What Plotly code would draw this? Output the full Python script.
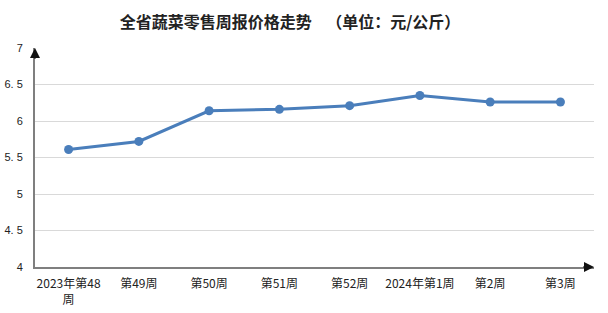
import plotly.graph_objects as go

categories = ["2023年第48<br>周", "第49周", "第50周", "第51周", "第52周", "2024年第1周", "第2周", "第3周"]
prices = [5.61, 5.72, 6.14, 6.16, 6.21, 6.35, 6.26, 6.26]
y_ticks = [4, 4.5, 5, 5.5, 6, 6.5, 7]
y_tick_labels = ["4", "4. 5", "5", "5. 5", "6", "6. 5", "7"]
title_text = "全省蔬菜零售周报价格走势    （单位：元/公斤）"

fig = go.Figure()
fig.add_trace(go.Scatter(
    x=categories, y=prices, mode="lines+markers",
    line=dict(color="#4a7ebb", width=3),
    marker=dict(color="#4a7ebb", size=9),
    hoverinfo="skip",
))

fig.update_layout(
    width=608, height=313,
    margin=dict(l=35, r=14, t=48, b=46),
    paper_bgcolor="white", plot_bgcolor="white",
    showlegend=False,
    font=dict(family="Noto Sans CJK SC", size=12, color="#222"),
    title=dict(text="<b>" + title_text + "</b>", x=0.477, xanchor="center",
               y=0.93, yanchor="middle",
               font=dict(family="Noto Sans CJK SC", size=16, color="#222")),
    xaxis=dict(type="category", showgrid=False, showline=True,
               linecolor="#7f7f7f", linewidth=2, ticks="",
               ticklabelstandoff=5, automargin=False,
               tickfont=dict(size=12, family="Noto Sans CJK SC", color="#222"),
               fixedrange=True),
    yaxis=dict(range=[4, 7], tickvals=y_ticks, ticktext=y_tick_labels,
               showgrid=True, gridcolor="#d9d9d9", gridwidth=1,
               showline=True, linecolor="#7f7f7f", linewidth=2, ticks="",
               zeroline=False, ticklabelstandoff=8, automargin=False,
               tickfont=dict(size=11, family="Liberation Sans", color="#222"),
               fixedrange=True),
)

# axis arrowheads
fig.add_annotation(x=0, y=1.0, xref="paper", yref="paper", ax=0, ay=12,
                   showarrow=True, arrowhead=2, arrowsize=1, arrowwidth=2,
                   arrowcolor="#111", text="")
fig.add_annotation(x=1.0, y=0, xref="paper", yref="paper", ax=-12, ay=0,
                   showarrow=True, arrowhead=2, arrowsize=1, arrowwidth=2,
                   arrowcolor="#111", text="")

fig.write_html("out.html")
